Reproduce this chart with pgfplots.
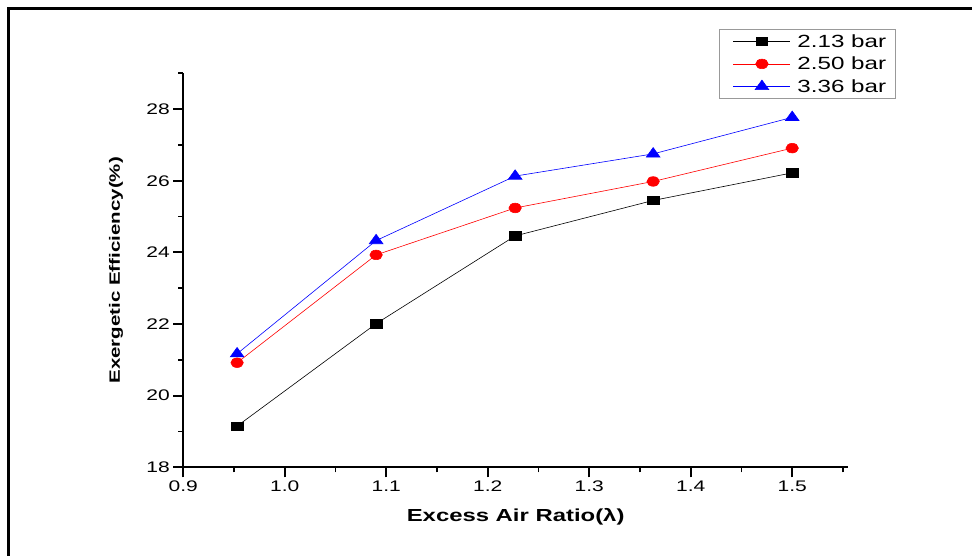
\documentclass[border=0pt]{standalone}
\usepackage{fontspec}
\setmainfont{Liberation Sans}[FakeStretch=1.37]
\usepackage{pgfplots}
\pgfplotsset{compat=1.18}
\begin{document}
\begin{tikzpicture}
\useasboundingbox (0,0) rectangle (972bp,556bp);
\fill[white] (0,0) rectangle (972bp,556bp);
\draw[line width=3bp] (8bp,0bp) -- (8bp,547bp) -- (972bp,547bp);
\begin{axis}[
  at={(183.3bp,88.7bp)}, anchor=south west,
  scale only axis, width=664.7bp, height=394bp,
  xmin=0.9, xmax=1.555, ymin=18, ymax=29,
  axis x line*=bottom, axis y line*=left,
  axis line style={line width=2bp},
  xtick={0.9,1,1.1,1.2,1.3,1.4,1.5},
  minor xtick={0.95,1.05,1.15,1.25,1.35,1.45,1.55},
  ytick={18,20,22,24,26,28},
  minor ytick={19,21,23,25,27,29},
  tick align=outside,
  major tick length=10bp, minor tick length=5bp,
  every tick/.style={black, line width=1.8bp},
  /pgf/number format/assume math mode=true,
  xticklabel style={/pgf/number format/.cd, fixed, fixed zerofill, precision=1},
  yticklabel style={/pgf/number format/.cd, fixed, precision=0},
  tick label style={font=\fontsize{15.4}{18}\selectfont},
  xlabel={\bfseries\fontsize{17.5}{20}\selectfont Excess Air Ratio(λ)},
  ylabel={\bfseries\fontsize{15}{18}\selectfont Exergetic Efficiency(\%)},
  every axis x label/.style={at={(axis description cs:0.5,-0.126)}, anchor=center},
  every axis y label/.style={at={(axis description cs:-0.101,0.5)}, anchor=center, rotate=90},
  legend cell align=left,
  legend style={at={(axis description cs:0.806,1.1124)}, anchor=north west,
    draw=gray!80, line width=0.8bp, fill=white,
    font=\fontsize{17.7}{20}\selectfont, inner xsep=9bp, inner ysep=0.75bp,
    row sep=0bp, nodes={inner sep=0bp}},
  legend image code/.code={%
    \path[draw=none,fill=none] (-5bp,-11.25bp) rectangle (64bp,11.25bp);
    \draw[mark repeat=2,mark phase=2,#1] plot coordinates {(0bp,0bp) (28.5bp,0bp) (57bp,0bp)};},
]
\addplot[black, line width=0.6bp, mark=square*, mark size=4.15bp, mark options={xscale=1.4, solid}]
  coordinates {(0.953,19.15) (1.090,22.01) (1.227,24.46) (1.363,25.45) (1.500,26.22)};
\addlegendentry{2.13 bar}
\addplot[red, line width=0.6bp, mark=*, mark size=4.8bp, mark options={xscale=1.3, solid}]
  coordinates {(0.953,20.92) (1.090,23.93) (1.227,25.24) (1.363,25.98) (1.500,26.91)};
\addlegendentry{2.50 bar}
\addplot[blue, line width=0.6bp, mark=triangle*, mark size=6.3bp, mark options={xscale=1.25, solid}]
  coordinates {(0.953,21.17) (1.090,24.33) (1.227,26.13) (1.363,26.75) (1.500,27.77)};
\addlegendentry{3.36 bar}
\end{axis}
\end{tikzpicture}
\end{document}
